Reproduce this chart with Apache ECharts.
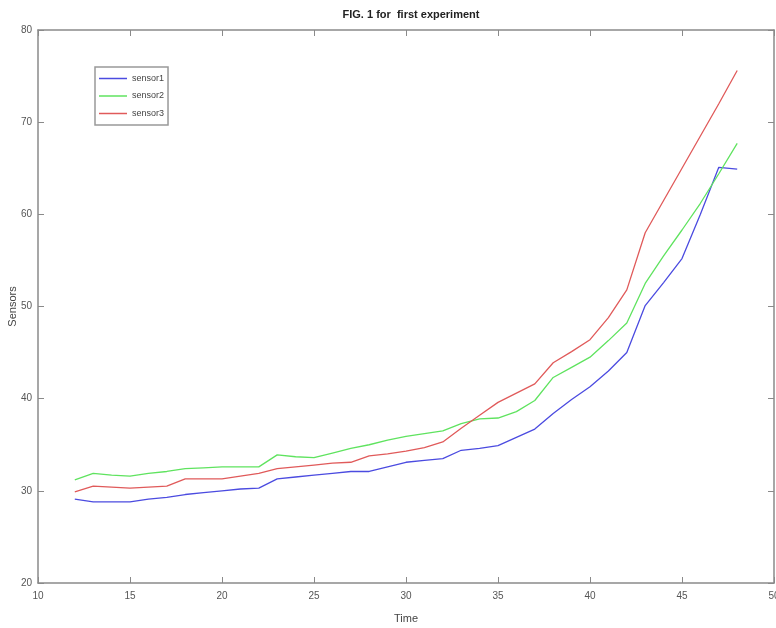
<!DOCTYPE html>
<html>
<head>
<meta charset="utf-8">
<script src="https://cdn.jsdelivr.net/npm/echarts@6/dist/echarts.min.js"></script>
<style>html,body{margin:0;padding:0;background:#fff}#c{width:776px;height:628px}</style>
</head>
<body>
<div id="c"></div>
<script>
var time = [12,13,14,15,16,17,18,19,20,21,22,23,24,25,26,27,28,29,30,31,32,33,34,35,36,37,38,39,40,41,42,43,44,45,46,47,48];
var sensor1 = [29.1,28.8,28.8,28.8,29.1,29.3,29.6,29.8,30.0,30.2,30.3,31.3,31.5,31.7,31.9,32.1,32.1,32.6,33.1,33.3,33.5,34.4,34.6,34.9,35.8,36.7,38.4,39.9,41.3,43.0,45.0,50.1,52.6,55.2,60.0,65.1,64.9];
var sensor2 = [31.2,31.9,31.7,31.6,31.9,32.1,32.4,32.5,32.6,32.6,32.6,33.9,33.7,33.6,34.1,34.6,35.0,35.5,35.9,36.2,36.5,37.3,37.8,37.9,38.6,39.8,42.3,43.4,44.5,46.3,48.2,52.5,55.5,58.3,61.2,64.4,67.7];
var sensor3 = [29.9,30.5,30.4,30.3,30.4,30.5,31.3,31.3,31.3,31.6,31.9,32.4,32.6,32.8,33.0,33.1,33.8,34.0,34.3,34.7,35.3,36.8,38.2,39.6,40.6,41.6,43.9,45.1,46.4,48.8,51.8,58.0,61.5,65.0,68.5,72.0,75.6];
var names = ['sensor1','sensor2','sensor3'];
var colors = ['#4b4be0','#5fe35f','#e05a5a'];

function pairs(ys){ return time.map(function(t,i){ return [t, ys[i]]; }); }

var font = 'Liberation Sans Narrow, Liberation Sans, Arial, sans-serif';
var axisCol = '#8a8a8a';
var chart = echarts.init(document.getElementById('c'));
var baseX = {type:'value', min:10, max:50, interval:5,
  axisLine:{show:true, lineStyle:{color:axisCol, width:1.5}},
  axisTick:{show:true, inside:true, length:6, lineStyle:{color:axisCol}},
  splitLine:{show:false}};
var baseY = {type:'value', min:20, max:80, interval:10,
  axisLine:{show:true, lineStyle:{color:axisCol, width:1.5}},
  axisTick:{show:true, inside:true, length:6, lineStyle:{color:axisCol}},
  splitLine:{show:false}};
chart.setOption({
  backgroundColor:'#fff',
  animation:false,
  title:{text:'FIG. 1 for  first experiment', left:406, textAlign:'center', top:4,
    textStyle:{fontFamily:font, fontSize:11, fontWeight:'bold', color:'#222'}},
  legend:{data:names, orient:'vertical', left:95, top:67, icon:'rect', itemWidth:28, itemHeight:1.5,
    itemGap:8.5, padding:[7,4,7,4], borderColor:'#999', borderWidth:1.5,
    textStyle:{fontFamily:font, fontSize:9, color:'#444'}},
  grid:{left:38, right:2, top:30, bottom:45, outerBoundsMode:'none', containLabel:false},
  xAxis:[
    Object.assign({}, baseX, {position:'bottom', name:'Time', nameLocation:'middle', nameGap:30,
      nameTextStyle:{fontFamily:font, fontSize:11, color:'#444'},
      axisLabel:{fontFamily:font, fontSize:10, color:'#555', margin:8}}),
    Object.assign({}, baseX, {position:'top', axisLabel:{show:false}})
  ],
  yAxis:[
    Object.assign({}, baseY, {position:'left', name:'Sensors', nameLocation:'middle', nameGap:20,
      nameMoveOverlap:false,
      nameTextStyle:{fontFamily:font, fontSize:11, color:'#444'},
      axisLabel:{fontFamily:font, fontSize:10, color:'#555', margin:6}}),
    Object.assign({}, baseY, {position:'right', axisLabel:{show:false}})
  ],
  series: [sensor1, sensor2, sensor3].map(function(d,i){
    return {name:names[i], type:'line', data:pairs(d), symbol:'none', xAxisIndex:0, yAxisIndex:0,
      lineStyle:{color:colors[i], width:1.3}, itemStyle:{color:colors[i]}};
  })
});
</script>
</body>
</html>
